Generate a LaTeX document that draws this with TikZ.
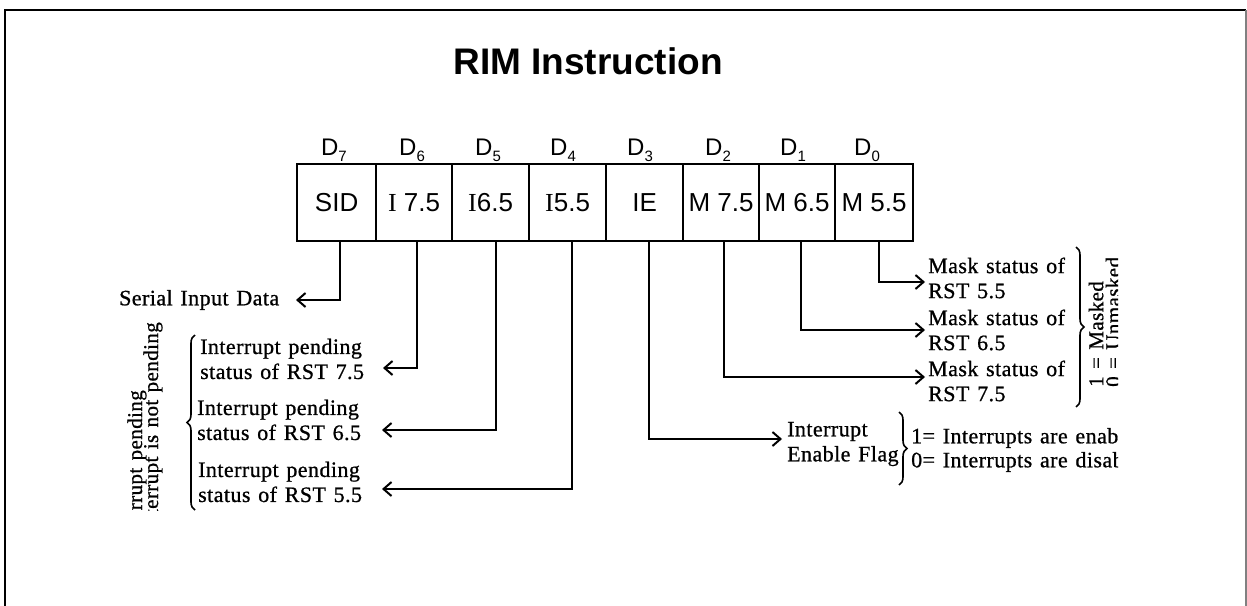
\documentclass[tikz,border=0pt]{standalone}
\usepackage{fontspec}
\newfontfamily\sansf{Liberation Sans}
\newfontfamily\scan[LetterSpace=2,WordSpace=1.3,FakeBold=0.8]{Liberation Serif}
\newfontfamily\serifI{Liberation Serif}
\usetikzlibrary{arrows.meta,decorations.pathreplacing}
\newcommand{\dsub}[1]{D\raisebox{-6pt}{\fontsize{15}{15}\selectfont #1}}
\begin{document}
\begin{tikzpicture}[x=1pt,y=-1pt,
  cell/.style={draw, line width=2.2pt, minimum height=77pt, inner sep=0pt,
    font=\sansf\fontsize{26}{26}\selectfont, anchor=north west},
  dlab/.style={font=\sansf\fontsize{24}{24}\selectfont, inner sep=0pt},
  txt/.style={font=\scan\fontsize{22}{25}\selectfont, align=left, inner sep=0pt, anchor=west},
  rot/.style={font=\scan\fontsize{21}{25}\selectfont, inner sep=0pt, rotate=90},
  arr/.style={line width=2pt, -{Straight Barb[length=8pt,width=14pt]}},
  brc/.style={line width=1.6pt, decorate, decoration={brace, amplitude=8pt}}]
\useasboundingbox (0,0) rectangle (1247,605);
% outer frame
\draw[line width=2.5pt] (5,700) -- (5,10) -- (1246,10);
\draw[line width=2pt, gray] (1246,10) -- (1246,700);
% title
\node[font=\sansf\bfseries\fontsize{37}{37}\selectfont] (title) at (588,61) {RIM Instruction};

\begin{scope}
\clip (118,95) rectangle (1118,510);
% register cells
\node[cell, minimum width=79pt] (c7) at (296,163) {SID};
\node[cell, minimum width=76pt] (c6) at (375,163) {{\serifI I} 7.5};
\node[cell, minimum width=77pt] (c5) at (451,163) {{\serifI I}6.5};
\node[cell, minimum width=77pt] (c4) at (528,163) {{\serifI I}5.5};
\node[cell, minimum width=77pt] (c3) at (605,163) {IE};
\node[cell, minimum width=76pt] (c2) at (682,163) {M 7.5};
\node[cell, minimum width=76pt] (c1) at (758,163) {M 6.5};
\node[cell, minimum width=78pt] (c0) at (834,163) {M 5.5};
% bit labels
\node[dlab] (d7) at (334,150) {\dsub{7}};
\node[dlab] (d6) at (412,150) {\dsub{6}};
\node[dlab] (d5) at (488,150) {\dsub{5}};
\node[dlab] (d4) at (563,150) {\dsub{4}};
\node[dlab] (d3) at (640,150) {\dsub{3}};
\node[dlab] (d2) at (718,150) {\dsub{2}};
\node[dlab] (d1) at (793,150) {\dsub{1}};
\node[dlab] (d0) at (867,150) {\dsub{0}};

% left texts
\node[txt] (sid) at (119,300) {Serial Input Data};
\node[txt] (p7) at (200,359) {Interrupt pending\\status of RST 7.5};
\node[txt] (p6) at (197,420) {Interrupt pending\\status of RST 6.5};
\node[txt] (p5) at (198,482) {Interrupt pending\\status of RST 5.5};
\draw[brc] (195,510) -- (195,335);
\node[rot, anchor=east] (lp1) at (137,390) {1 = Interrupt pending};
\node[rot, anchor=east] (lp0) at (153,322) {0 = Interrupt is not pending};

% right texts
\node[txt] (m5) at (928,278) {Mask status of\\RST 5.5};
\node[txt] (m6) at (928,330) {Mask status of\\RST 6.5};
\node[txt] (m7) at (928,381) {Mask status of\\RST 7.5};
\draw[brc] (1076,247) -- (1076,407);
\node[rot, anchor=west] (rm1) at (1096,387) {1 = Masked};
\node[rot, anchor=west] (rm0) at (1113,387) {0 = Unmasked};

\node[txt] (ie) at (787,444) {Interrupt\\Enable Flag};
\draw[brc] (899,412) -- (899,485);
\node[txt] (ie1) at (911,438) {1= Interrupts are enabled};
\node[txt] (ie0) at (911,462) {0= Interrupts are disabled};

% arrow tips
\coordinate (tsid) at (296,300);
\coordinate (t7) at (383,368);
\coordinate (t6) at (382,430);
\coordinate (t5) at (382,489);
\coordinate (tie) at (782,439);
\coordinate (tm5) at (925,282);
\coordinate (tm6) at (925,330);
\coordinate (tm7) at (925,377);

% connectors
\draw[arr] ([xshift=3.5pt]c7.south) |- (tsid);
\draw[arr] ([xshift=3pt]c6.south) |- (t7);
\draw[arr] ([xshift=5.5pt]c5.south) |- (t6);
\draw[arr] ([xshift=4.5pt]c4.south) |- (t5);
\draw[arr] ([xshift=4.5pt]c3.south) |- (tie);
\draw[arr] ([xshift=3pt]c2.south) |- (tm7);
\draw[arr] ([xshift=4pt]c1.south) |- (tm6);
\draw[arr] ([xshift=5pt]c0.south) |- (tm5);
\end{scope}
\end{tikzpicture}
\end{document}
